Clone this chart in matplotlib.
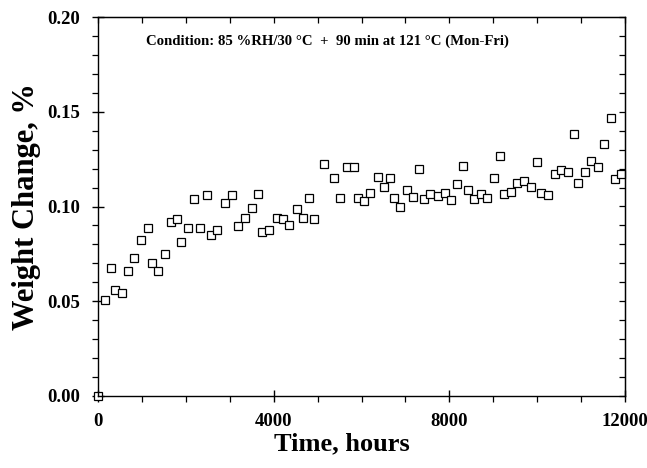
import numpy as np
import matplotlib
matplotlib.use('Agg')
import matplotlib.pyplot as plt
from matplotlib.ticker import MultipleLocator

# data (time in hours, weight change in %)
time_h = [0, 160, 296, 395, 540, 691, 820, 987, 1139, 1230, 1374, 1526, 1663,
          1807, 1898, 2043, 2187, 2331, 2476, 2574, 2711, 2900, 3052, 3197,
          3356, 3501, 3652, 3743, 3888, 4077, 4222, 4358, 4526, 4677, 4813,
          4913, 5155, 5368, 5505, 5672, 5824, 5915, 6059, 6196, 6371, 6508,
          6651, 6743, 6887, 7039, 7175, 7319, 7419, 7563, 7752, 7897, 8041,
          8178, 8322, 8422, 8558, 8724, 8868, 9021, 9165, 9256, 9401, 9545,
          9704, 9857, 10000, 10091, 10258, 10403, 10547, 10691, 10836, 10934,
          11078, 11237, 11382, 11526, 11670, 11761, 11920]
weight_pct = [0.0, 0.0507, 0.0674, 0.0560, 0.0546, 0.0658, 0.0727, 0.0825,
              0.0887, 0.0700, 0.0660, 0.0748, 0.0919, 0.0934, 0.0815, 0.0884,
              0.1039, 0.0887, 0.1061, 0.0850, 0.0876, 0.1019, 0.1061, 0.0897,
              0.0940, 0.0991, 0.1065, 0.0867, 0.0876, 0.0940, 0.0934, 0.0905,
              0.0987, 0.0940, 0.1044, 0.0934, 0.1225, 0.1153, 0.1044, 0.1210,
              0.1206, 0.1047, 0.1030, 0.1070, 0.1158, 0.1102, 0.1153, 0.1044,
              0.0998, 0.1088, 0.1049, 0.1200, 0.1039, 0.1065, 0.1054, 0.1070,
              0.1033, 0.1118, 0.1216, 0.1086, 0.1039, 0.1065, 0.1045, 0.1149,
              0.1264, 0.1065, 0.1077, 0.1123, 0.1132, 0.1102, 0.1237, 0.1070,
              0.1060, 0.1170, 0.1195, 0.1184, 0.1383, 0.1123, 0.1184, 0.1240,
              0.1210, 0.1330, 0.1465, 0.1147, 0.1170]

x_ticks = [0, 4000, 8000, 12000]
y_ticks = [0.00, 0.05, 0.10, 0.15, 0.20]
note = 'Condition: 85 %RH/30 \u00b0C  +  90 min at 121 \u00b0C (Mon-Fri)'

plt.rcParams['font.family'] = 'Liberation Serif'
plt.rcParams['font.weight'] = 'bold'

fig = plt.figure(figsize=(6.47, 4.68), dpi=100)
ax = fig.add_axes([98/647, 1 - 396/468, 527/647, 379/468])

ax.plot(time_h, weight_pct, linestyle='none', marker='s', markersize=5.5,
        markerfacecolor='white', markeredgecolor='black', markeredgewidth=0.9,
        clip_on=False)

ax.set_xlim(0, 12000)
ax.set_ylim(0, 0.20)
ax.set_xticks(x_ticks)
ax.set_yticks(y_ticks)
ax.set_yticklabels([f'{v:.2f}' for v in y_ticks])
ax.xaxis.set_minor_locator(MultipleLocator(1000))
ax.yaxis.set_minor_locator(MultipleLocator(0.01))

for s in ax.spines.values():
    s.set_linewidth(1.0)

ax.tick_params(which='major', direction='inout', length=8, width=1.0,
               labelsize=13.5, pad=8)
ax.tick_params(which='minor', direction='out', length=4, width=0.9)
ax.tick_params(axis='y', which='major', pad=9)
# mirrored ticks on top and right, pointing inwards
axt = ax.secondary_xaxis('top')
axt.set_xticks(x_ticks)
axt.xaxis.set_minor_locator(MultipleLocator(1000))
axt.tick_params(which='both', direction='in', length=4, width=0.9, labeltop=False)
axr = ax.secondary_yaxis('right')
axr.set_yticks(y_ticks)
axr.yaxis.set_minor_locator(MultipleLocator(0.01))
axr.tick_params(which='both', direction='in', length=4, width=0.9, labelright=False)

ax.set_xlabel('Time, hours', fontsize=19, fontweight='bold')
ax.xaxis.set_label_coords(0.463, -0.095)
ax.set_ylabel('Weight Change, %', fontsize=22, fontweight='bold')
ax.yaxis.set_label_coords(-0.108, 0.5)

ax.text(0.435, 0.935, note, transform=ax.transAxes, ha='center', va='center',
        fontsize=10.6, fontweight='bold')

fig.savefig('out.png', dpi=100)
